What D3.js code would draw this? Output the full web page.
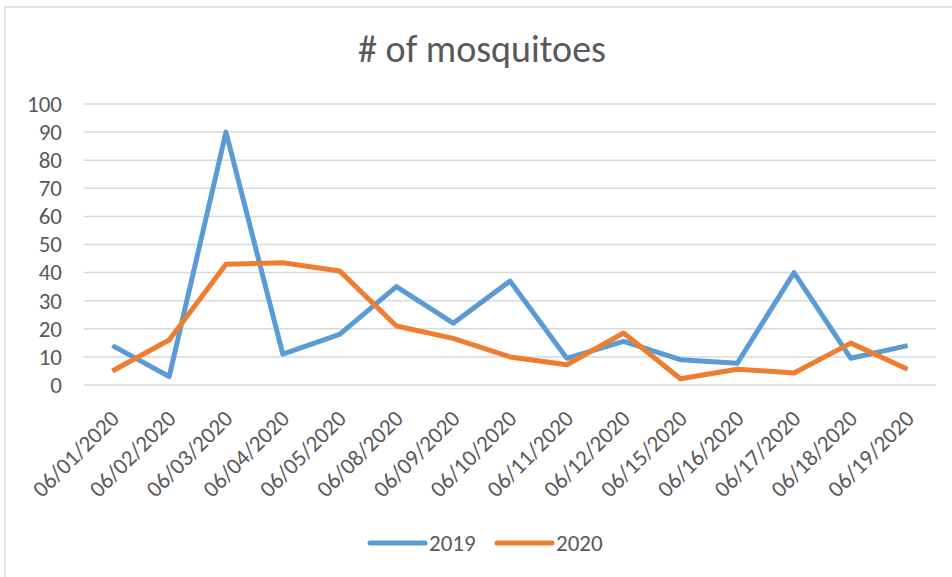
<!DOCTYPE html>
<html>
<head>
<meta charset="utf-8">
<script src="https://cdn.jsdelivr.net/npm/d3@7"></script>
<style>
  body { margin: 0; background: #fff; }
  text { font-family: Calibri, Lato, "Open Sans", sans-serif; fill: #595959; }
</style>
</head>
<body>
<div id="chart"></div>
<script>
"use strict";

// chart data
const dates = ["06/01/2020", "06/02/2020", "06/03/2020", "06/04/2020", "06/05/2020",
  "06/08/2020", "06/09/2020", "06/10/2020", "06/11/2020", "06/12/2020",
  "06/15/2020", "06/16/2020", "06/17/2020", "06/18/2020", "06/19/2020"];
const values2019 = [14, 3, 90, 11, 18, 35, 22, 37, 9.5, 15.5, 9, 7.7, 40, 9.5, 14];
const values2020 = [5, 16, 43, 43.5, 40.6, 21, 16.6, 10, 7.2, 18.5, 2.2, 5.6, 4.3, 14.9, 5.6];
const yTicks = [0, 10, 20, 30, 40, 50, 60, 70, 80, 90, 100];
const seriesNames = ["2019", "2020"];

const width = 952, height = 577;
const colors = ["#5B9BD5", "#ED7D31"];

const svg = d3.select("#chart").append("svg")
  .attr("width", width)
  .attr("height", height);

/* chart frame */
svg.append("rect")
  .attr("x", 5).attr("y", 7)
  .attr("width", width + 20).attr("height", height + 20)
  .attr("fill", "white")
  .attr("stroke", "#d9d9d9")
  .attr("stroke-width", 1.5);

/* title */
svg.append("text")
  .attr("x", 482).attr("y", 62)
  .attr("text-anchor", "middle")
  .style("font-size", "38px")
  .text("# of mosquitoes");

/* scales */
const x = d3.scaleBand()
  .domain(dates)
  .range([84, 936]);

const y = d3.scaleLinear()
  .domain([0, 100])
  .range([385, 104]);

/* gridlines */
svg.append("g")
  .selectAll("line")
  .data(yTicks)
  .enter().append("line")
  .attr("x1", 84).attr("x2", 936)
  .attr("y1", d => y(d)).attr("y2", d => y(d))
  .attr("stroke", "#d9d9d9")
  .attr("stroke-width", 1.5);

/* y axis labels */
const yAxis = svg.append("g")
  .attr("transform", "translate(70,0)")
  .call(d3.axisLeft(y).tickValues(yTicks).tickSize(0).tickPadding(8));
yAxis.select(".domain").remove();
yAxis.selectAll("text")
  .style("font-size", "23px")
  .style("font-family", "Calibri, Lato, sans-serif")
  .attr("fill", "#595959");

/* x axis labels, rotated */
const xAxis = svg.append("g")
  .attr("transform", "translate(0,385)")
  .call(d3.axisBottom(x).tickSize(0).tickPadding(0));
xAxis.select(".domain").remove();
xAxis.selectAll("text")
  .style("font-size", "23px")
  .style("font-family", "Calibri, Lato, sans-serif")
  .attr("fill", "#595959")
  .attr("text-anchor", "end")
  .attr("y", 0)
  .attr("dy", "0")
  .attr("transform", "translate(8,35) rotate(-45)");

/* lines */
const line = d3.line()
  .x((d, i) => x(dates[i]) + x.bandwidth() / 2)
  .y(d => y(d));

[values2019, values2020].forEach(function(series, k) {
  svg.append("path")
    .datum(series)
    .attr("fill", "none")
    .attr("stroke", colors[k])
    .attr("stroke-width", 5)
    .attr("stroke-linejoin", "round")
    .attr("d", line);
});

/* legend */
const legend = svg.append("g")
  .selectAll("g")
  .data(seriesNames)
  .enter().append("g")
  .attr("transform", (d, i) => "translate(" + (370 + i * 127) + ",543)");

legend.append("line")
  .attr("x1", 0).attr("x2", 55)
  .attr("stroke", (d, i) => colors[i])
  .attr("stroke-width", 5)
  .attr("stroke-linecap", "round");

legend.append("text")
  .attr("x", 59).attr("dy", "0.35em")
  .style("font-size", "23px")
  .text(d => d);
</script>
</body>
</html>
